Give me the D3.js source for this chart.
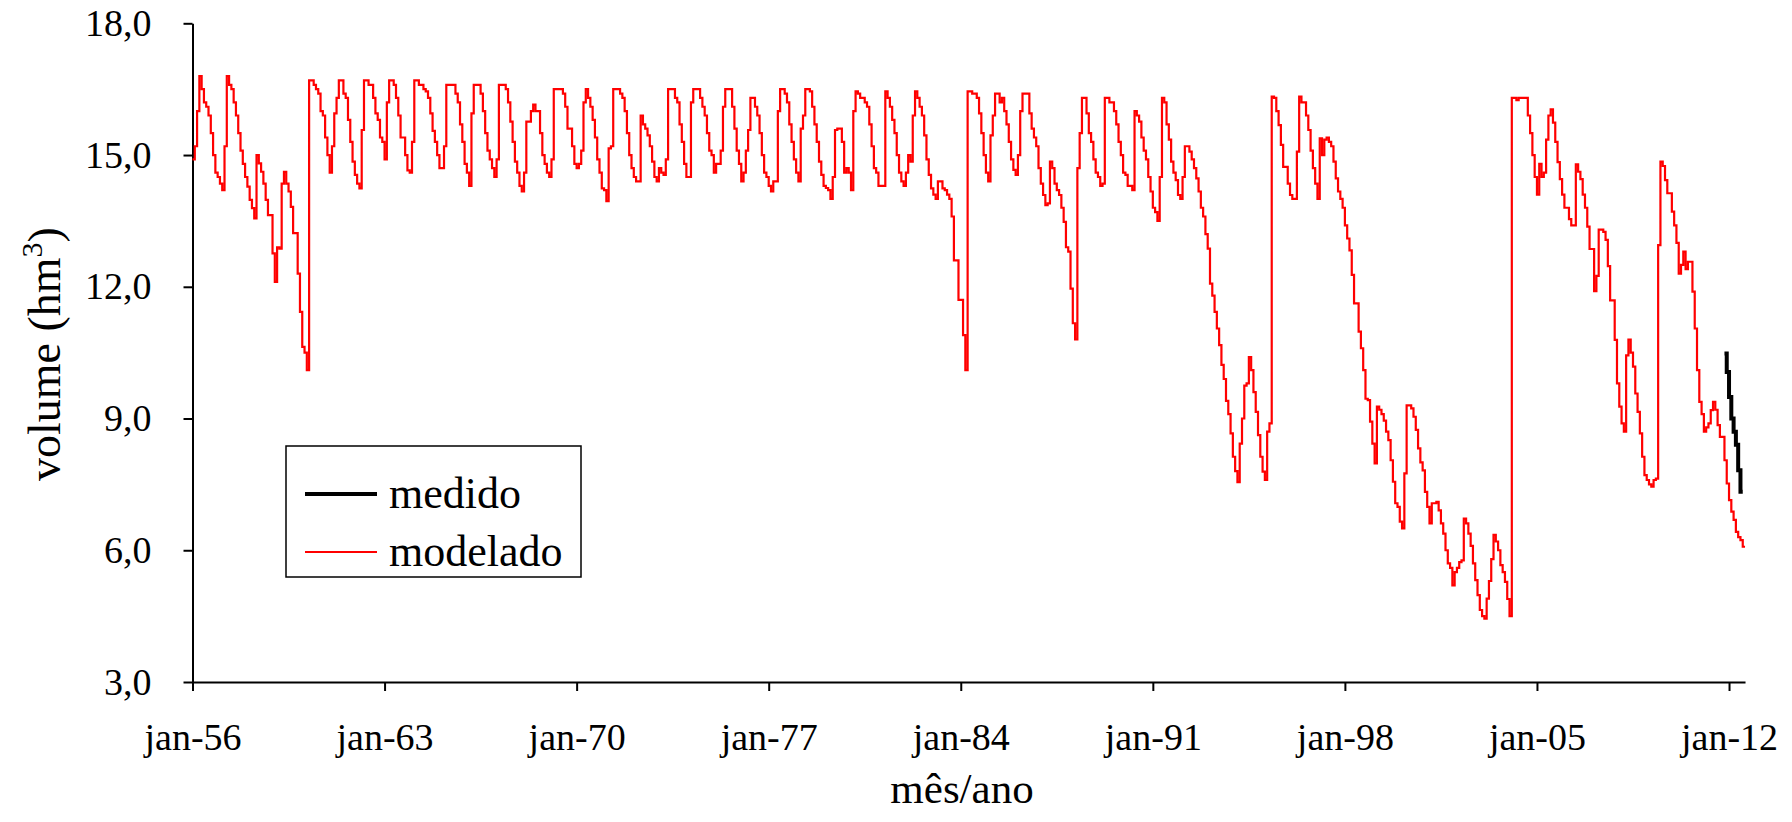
<!DOCTYPE html>
<html>
<head>
<meta charset="utf-8">
<script src="https://cdn.jsdelivr.net/npm/d3@7"></script>
<style>
  body { margin: 0; background: #fff; }
  svg { display: block; }
  text { font-family: "Liberation Serif", "Times New Roman", serif; fill: #000; }
</style>
</head>
<body>
<svg id="chart" width="1792" height="822"></svg>
<script>
// Monthly reservoir volume (hm³), one row per year starting in January 1956
const startYear = 1956;
const modelado = [
  [14.9, 15.2, 16.0, 16.8, 16.5, 16.2, 16.1, 15.9, 15.5, 15.0, 14.6, 14.5],      // 1956
  [14.35, 14.2, 15.2, 16.8, 16.6, 16.5, 16.2, 15.9, 15.5, 15.1, 14.8, 14.5],     // 1957
  [14.28, 13.98, 13.79, 13.56, 15.0, 14.81, 14.62, 14.35, 13.98, 13.63, 13.63, 12.76], // 1958
  [12.11, 12.9, 12.87, 14.35, 14.62, 14.35, 14.17, 13.82, 13.22, 13.22, 12.3, 11.43],  // 1959
  [10.63, 10.5, 10.1, 16.7, 16.7, 16.6, 16.5, 16.4, 16.0, 15.9, 15.4, 15.0],     // 1960
  [14.6, 15.2, 15.95, 16.3, 16.7, 16.7, 16.4, 16.3, 15.8, 15.3, 14.85, 14.55],   // 1961
  [14.35, 14.24, 15.57, 16.7, 16.7, 16.6, 16.6, 16.3, 15.95, 15.8, 15.4, 15.3],  // 1962
  [14.9, 16.2, 16.7, 16.7, 16.6, 16.3, 15.9, 15.4, 15.4, 15.0, 14.65, 14.6],     // 1963
  [15.3, 16.7, 16.7, 16.6, 16.6, 16.5, 16.45, 16.3, 15.95, 15.55, 15.3, 15.0],   // 1964
  [14.7, 14.7, 15.2, 16.6, 16.6, 16.6, 16.6, 16.4, 16.2, 15.7, 15.3, 14.8],      // 1965
  [14.6, 14.3, 15.95, 16.6, 16.6, 16.6, 16.4, 16.0, 15.5, 15.1, 14.9, 14.7],     // 1966
  [14.5, 14.9, 16.6, 16.6, 16.6, 16.5, 16.2, 15.76, 15.3, 14.85, 14.6, 14.3],    // 1967
  [14.17, 14.6, 15.76, 15.76, 16.0, 16.15, 16.0, 16.0, 15.5, 15.0, 14.8, 14.6],  // 1968
  [14.5, 14.9, 16.5, 16.5, 16.5, 16.5, 16.4, 16.1, 15.6, 15.6, 15.2, 14.8],      // 1969
  [14.7, 14.8, 15.1, 16.2, 16.5, 16.3, 16.1, 15.8, 15.4, 14.9, 14.6, 14.24],     // 1970
  [14.2, 13.95, 15.15, 15.2, 16.5, 16.5, 16.5, 16.4, 16.3, 16.0, 15.5, 15.0],    // 1971
  [14.7, 14.5, 14.4, 14.4, 15.9, 15.7, 15.6, 15.45, 15.2, 14.85, 14.5, 14.4],    // 1972
  [14.7, 14.6, 14.55, 14.9, 16.5, 16.5, 16.5, 16.3, 16.2, 15.7, 15.3, 14.8],     // 1973
  [14.5, 14.5, 16.2, 16.5, 16.5, 16.5, 16.3, 16.1, 15.9, 15.5, 15.1, 15.0],      // 1974
  [14.6, 14.8, 14.8, 15.1, 16.1, 16.5, 16.5, 16.5, 16.1, 15.6, 15.1, 14.8],      // 1975
  [14.4, 14.6, 15.1, 15.57, 16.3, 16.3, 16.1, 15.9, 15.5, 15.0, 14.6, 14.5],     // 1976
  [14.3, 14.17, 14.4, 14.4, 16.0, 16.5, 16.5, 16.4, 16.2, 15.7, 15.3, 14.9],     // 1977
  [14.6, 14.4, 15.6, 15.9, 16.5, 16.5, 16.45, 16.1, 15.7, 15.3, 14.85, 14.55],   // 1978
  [14.3, 14.25, 14.2, 14.0, 14.5, 15.57, 15.6, 15.6, 15.3, 14.6, 14.7, 14.6],    // 1979
  [14.2, 16.0, 16.45, 16.4, 16.3, 16.3, 16.2, 16.1, 15.7, 15.2, 14.7, 14.6],     // 1980
  [14.3, 14.3, 14.3, 16.45, 16.3, 16.1, 15.8, 15.5, 15.0, 14.6, 14.4, 14.3],     // 1981
  [14.6, 15.0, 14.85, 15.9, 16.45, 16.3, 16.1, 15.9, 15.45, 14.9, 14.55, 14.24], // 1982
  [14.1, 14.0, 14.4, 14.4, 14.24, 14.2, 14.1, 14.0, 13.6, 12.6, 12.6, 11.7],     // 1983
  [11.7, 10.9, 10.1, 16.45, 16.45, 16.4, 16.4, 16.3, 15.95, 15.5, 15.0, 14.6],   // 1984
  [14.4, 15.45, 15.9, 16.4, 16.4, 16.2, 16.3, 16.0, 15.7, 15.3, 14.9, 14.66],    // 1985
  [14.55, 15.0, 16.0, 16.4, 16.4, 16.4, 15.95, 15.6, 15.4, 15.2, 14.7, 14.35],   // 1986
  [14.09, 13.86, 13.9, 14.85, 14.7, 14.35, 14.2, 14.09, 13.8, 13.48, 12.9, 12.8], // 1987
  [11.96, 11.17, 10.8, 14.7, 15.5, 16.3, 16.3, 15.95, 15.5, 15.3, 14.9, 14.6],   // 1988
  [14.5, 14.3, 14.35, 16.3, 16.3, 16.2, 16.2, 16.0, 15.7, 15.3, 15.0, 14.6],     // 1989
  [14.55, 14.3, 14.3, 14.2, 16.0, 15.9, 15.76, 15.4, 15.1, 14.9, 14.5, 14.17],   // 1990
  [13.8, 13.7, 13.5, 14.5, 16.3, 16.2, 15.7, 15.35, 14.85, 14.6, 14.43, 14.09],  // 1991
  [14.0, 14.5, 15.2, 15.2, 15.08, 14.9, 14.7, 14.47, 14.17, 13.8, 13.6, 13.2],   // 1992
  [12.87, 12.07, 11.8, 11.43, 11.05, 10.67, 10.22, 9.9, 9.4, 9.1, 8.66, 8.13],   // 1993
  [7.8, 7.55, 8.43, 9.0, 9.75, 9.8, 10.4, 10.1, 9.6, 9.15, 8.62, 8.13],          // 1994
  [7.79, 7.6, 8.7, 8.89, 16.33, 16.3, 16.0, 15.68, 15.23, 14.73, 14.73, 14.35],  // 1995
  [14.09, 14.0, 14.0, 15.08, 16.33, 16.2, 16.2, 15.9, 15.57, 15.1, 14.7, 14.35], // 1996
  [14.0, 15.38, 15.0, 15.35, 15.4, 15.3, 15.2, 14.85, 14.47, 14.17, 14.0, 13.8], // 1997
  [13.4, 13.1, 12.83, 12.27, 11.62, 11.62, 10.98, 10.6, 10.1, 9.45, 9.42, 8.93], // 1998
  [8.43, 7.98, 9.27, 9.2, 9.1, 8.95, 8.7, 8.51, 8.05, 7.56, 7.07, 6.99],         // 1999
  [6.65, 6.5, 7.75, 9.3, 9.3, 9.23, 9.04, 8.74, 8.32, 8.0, 7.82, 7.33],          // 2000
  [6.99, 6.61, 7.07, 7.07, 7.1, 6.91, 6.61, 6.38, 6.0, 5.7, 5.6, 5.2],           // 2001
  [5.5, 5.6, 5.73, 5.77, 6.72, 6.61, 6.38, 6.1, 5.7, 5.32, 4.98, 4.64],          // 2002
  [4.5, 4.44, 4.9, 5.3, 5.8, 6.35, 6.2, 6.0, 5.66, 5.5, 5.28, 4.89],             // 2003
  [4.5, 16.3, 16.3, 16.25, 16.3, 16.3, 16.3, 16.3, 15.9, 15.5, 15.0, 14.5],      // 2004
  [14.1, 14.8, 14.5, 14.6, 15.35, 15.9, 16.04, 15.74, 15.3, 14.84, 14.45, 14.1], // 2005
  [13.8, 13.8, 13.54, 13.4, 13.4, 14.79, 14.62, 14.45, 14.1, 13.8, 13.37, 12.86], // 2006
  [12.86, 11.9, 12.25, 13.3, 13.3, 13.25, 13.07, 12.47, 11.69, 11.69, 10.79, 9.8], // 2007
  [9.27, 8.89, 8.7, 10.44, 10.8, 10.5, 10.18, 9.57, 9.15, 8.66, 8.13, 7.71],     // 2008
  [7.6, 7.5, 7.45, 7.6, 7.63, 12.95, 14.85, 14.75, 14.43, 14.13, 14.13, 13.71],  // 2009
  [13.4, 13.0, 12.3, 12.5, 12.8, 12.4, 12.57, 12.57, 11.89, 11.05, 10.1, 9.38],  // 2010
  [9.1, 8.7, 8.8, 8.89, 9.19, 9.38, 9.2, 8.85, 8.58, 8.58, 8.05, 7.52],          // 2011
  [7.14, 6.88, 6.69, 6.42, 6.3, 6.23, 6.08]                                      // 2012
];

// Measured volumes, monthly from november 2011
const medidoStart = { year: 2011, month: 10 };
const medido = [10.48, 10.06, 9.49, 9.0, 8.7, 8.4, 7.82, 7.33];

const yTicks = [3, 6, 9, 12, 15, 18];
const xTickLabels = ["jan-56", "jan-63", "jan-70", "jan-77", "jan-84", "jan-91", "jan-98", "jan-05", "jan-12"];
const xTickStepYears = 7;

const legendNames = ["medido", "modelado"];
const seriesColors = { medido: "#000000", modelado: "#ff0000" };

(function draw() {
  const svg = d3.select("#chart");
  const plotLeft = 192.5, plotBottom = 682, plotTop = 23.3;
  const monthPx = 2.2865;

  // month index counted from january of the start year
  const toPoints = (values, m0) => values.map((v, i) => ({ m: m0 + i, v }));
  const modPts = toPoints(modelado.flat(), 0);
  const medPts = toPoints(medido, (medidoStart.year - startYear) * 12 + medidoStart.month);

  const lastMonth = modPts.length; // trailing edge of the final step
  const x = d3.scaleLinear().domain([0, lastMonth]).range([plotLeft, plotLeft + lastMonth * monthPx]);
  const y = d3.scaleLinear().domain([3, 18]).range([plotBottom, plotTop]);

  // axes
  const xTickVals = xTickLabels.map((_, i) => i * xTickStepYears * 12);
  const xAxis = d3.axisBottom(x)
    .tickValues(xTickVals)
    .tickFormat((d, i) => xTickLabels[i])
    .tickSize(9).tickSizeOuter(0).tickPadding(32);
  const gx = svg.append("g").attr("transform", `translate(0,${plotBottom})`).call(xAxis);
  gx.selectAll("text").style("font-size", "38px").attr("fill", "#000");

  const yAxis = d3.axisLeft(y)
    .tickValues(yTicks)
    .tickFormat(d => d3.format(".1f")(d).replace(".", ","))
    .tickSize(9).tickSizeOuter(0).tickPadding(32);
  const gy = svg.append("g").attr("transform", `translate(${plotLeft},0)`).call(yAxis);
  gy.selectAll("text").style("font-size", "38px").attr("fill", "#000");

  svg.selectAll(".domain, .tick line").attr("stroke", "#000").attr("stroke-width", 2);

  // series as monthly steps
  const stepLine = d3.line().x(d => x(d.m)).y(d => y(d.v)).curve(d3.curveStepAfter);
  const withTail = pts => pts.concat([{ m: pts[pts.length - 1].m + 1, v: pts[pts.length - 1].v }]);

  svg.append("path")
    .datum(withTail(modPts))
    .attr("fill", "none")
    .attr("stroke", seriesColors.modelado)
    .attr("stroke-width", 2.2)
    .attr("d", stepLine);

  svg.append("path")
    .datum(withTail(medPts))
    .attr("fill", "none")
    .attr("stroke", seriesColors.medido)
    .attr("stroke-width", 4)
    .attr("d", stepLine);

  // axis titles
  svg.append("text")
    .attr("x", 962).attr("y", 803)
    .attr("text-anchor", "middle")
    .style("font-size", "43px")
    .text("mês/ano");

  const yTitle = svg.append("text")
    .attr("transform", "translate(60,354) rotate(-90)")
    .attr("text-anchor", "middle")
    .style("font-size", "46px");
  yTitle.append("tspan").text("volume (hm");
  yTitle.append("tspan").attr("dy", -18).style("font-size", "30px").text("3");
  yTitle.append("tspan").attr("dy", 18).text(")");

  // legend
  const lg = svg.append("g");
  lg.append("rect")
    .attr("x", 286).attr("y", 446).attr("width", 295).attr("height", 131)
    .attr("fill", "#fff").attr("stroke", "#000").attr("stroke-width", 1.5);
  legendNames.forEach((name, i) => {
    const cy = 494 + i * 58;
    lg.append("line")
      .attr("x1", 305).attr("x2", 377).attr("y1", cy).attr("y2", cy)
      .attr("stroke", seriesColors[name])
      .attr("stroke-width", name === "medido" ? 4 : 2);
    lg.append("text")
      .attr("x", 389).attr("y", cy + 14)
      .style("font-size", "44px")
      .text(name);
  });
})();
</script>
</body>
</html>
